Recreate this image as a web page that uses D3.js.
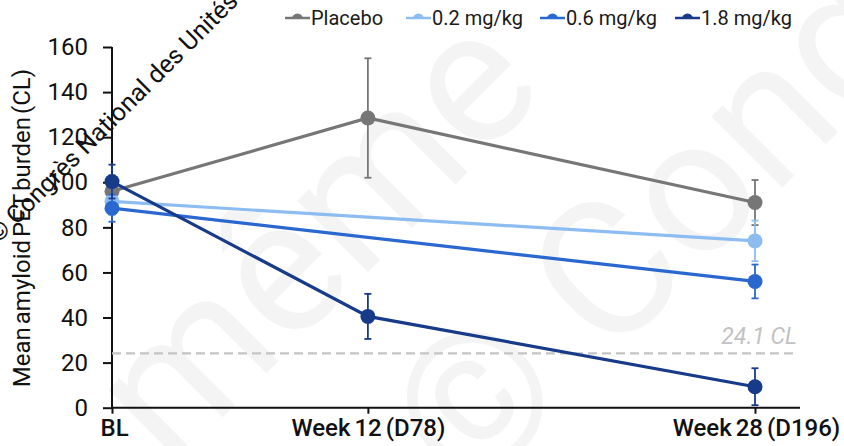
<!DOCTYPE html>
<html>
<head>
<meta charset="utf-8">
<script src="https://cdn.jsdelivr.net/npm/d3@7/dist/d3.min.js"></script>
<style>
  html, body { margin: 0; padding: 0; background: #ffffff; }
  svg { display: block; font-family: Roboto, "Noto Sans", sans-serif; }
</style>
</head>
<body>
<svg id="chart" width="844" height="446"></svg>
<script>
// Visit days and their axis labels
const visitDays = [0, 78, 196];
const visitLabels = ["BL", "Week 12 (D78)", "Week 28 (D196)"];

// Treatment groups
const groups = ["Placebo", "0.2 mg/kg", "0.6 mg/kg", "1.8 mg/kg"];
const groupColors = ["#767676", "#8dbdf0", "#2a67cf", "#173a89"];

// Mean amyloid PET burden (CL) per visit, one array per group
const placeboMean = [96, 128.5, 91];
const dose02Mean  = [91.5, null, 74];
const dose06Mean  = [88.5, null, 56];
const dose18Mean  = [100.3, 40.5, 9.3];

// Standard error half-widths per visit
const placeboErr = [7, 26.5, 10];
const dose02Err  = [6, null, 9];
const dose06Err  = [6, null, 7.5];
const dose18Err  = [7.5, 10, 8.2];

// Y-axis ticks and reference threshold
const yTicks = [0, 20, 40, 60, 80, 100, 120, 140, 160];
const thresholdCL = 24.1;

const means = [placeboMean, dose02Mean, dose06Mean, dose18Mean];
const errs = [placeboErr, dose02Err, dose06Err, dose18Err];

const svg = d3.select("#chart");

// Faint background watermark
const wm = svg.append("g").attr("fill", "#000").attr("fill-opacity", 0.045)
  .style("font-family", "Roboto, sans-serif");
wm.append("text").attr("transform", "translate(170,470) rotate(-45)")
  .style("font-size", "190px").text("même");
wm.append("text").attr("transform", "translate(470,500) rotate(-45)")
  .style("font-size", "190px").text("© Congrès");

const x = d3.scaleLinear().domain([0, 196]).range([112, 755]);
const y = d3.scaleLinear().domain([0, 160]).range([407.7, 47]);

// Y axis
const yAxis = svg.append("g").attr("transform", `translate(${x(0)},0)`)
  .call(d3.axisLeft(y).tickValues(yTicks).tickSize(9).tickPadding(15));
yAxis.select(".domain").attr("stroke", "#111").attr("stroke-width", 2)
  .attr("d", `M0,${y(0)}V${y(160)}`);
yAxis.selectAll(".tick line").attr("stroke", "#111").attr("stroke-width", 2);
yAxis.selectAll(".tick text").attr("fill", "#111").style("font-size", "24px")
  .style("font-family", "Roboto, sans-serif");

// X axis
const xAxis = svg.append("g").attr("transform", `translate(0,${y(0)})`)
  .call(d3.axisBottom(x).tickValues(visitDays)
    .tickFormat((d, i) => visitLabels[i]).tickSize(6).tickPadding(5));
xAxis.select(".domain").attr("stroke", "#111").attr("stroke-width", 2)
  .attr("d", `M${x(0)},0H800`);
xAxis.selectAll(".tick line").attr("stroke", "#111").attr("stroke-width", 2);
xAxis.selectAll(".tick text").attr("fill", "#111").style("font-size", "24px")
  .style("font-weight", 500).style("word-spacing", "-2px")
  .style("font-family", "Roboto, sans-serif");
xAxis.selectAll(".tick text").filter((d, i) => i === 0)
  .attr("text-anchor", "start").attr("dx", "-12");
xAxis.selectAll(".tick text").filter((d, i) => i === 2)
  .attr("text-anchor", "middle").attr("dx", "1");

// Y axis title
svg.append("text")
  .attr("transform", "translate(30,228) rotate(-90)")
  .attr("text-anchor", "middle").attr("fill", "#111")
  .style("font-size", "24px").style("word-spacing", "-3px")
  .style("font-family", "Roboto, sans-serif")
  .text("Mean amyloid PET burden (CL)");

// Threshold line
svg.append("line")
  .attr("x1", x(0)).attr("x2", 797)
  .attr("y1", y(thresholdCL)).attr("y2", y(thresholdCL))
  .attr("stroke", "#c4c4c4").attr("stroke-width", 2.2)
  .attr("stroke-dasharray", "9,5");
svg.append("text")
  .attr("x", 797).attr("y", y(thresholdCL) - 9)
  .attr("text-anchor", "end").attr("fill", "#c2c2c2")
  .style("font-size", "23px").style("font-style", "italic")
  .style("font-family", "Roboto, sans-serif")
  .text(`${thresholdCL} CL`);

// Series: lines, error bars, points
const line = d3.line()
  .defined(d => d.v !== null)
  .x(d => x(d.day)).y(d => y(d.v));

groups.forEach((g, gi) => {
  const pts = visitDays.map((day, i) => ({ day, v: means[gi][i], e: errs[gi][i] }))
    .filter(d => d.v !== null);
  const col = groupColors[gi];
  const gg = svg.append("g");
  gg.append("path").datum(pts).attr("d", line)
    .attr("fill", "none").attr("stroke", col).attr("stroke-width", 3.2);
  const eb = gg.selectAll(".err").data(pts).join("g");
  eb.append("line")
    .attr("x1", d => x(d.day)).attr("x2", d => x(d.day))
    .attr("y1", d => y(d.v + d.e)).attr("y2", d => y(Math.max(0, d.v - d.e)))
    .attr("stroke", col).attr("stroke-width", 1.8);
  eb.append("line")
    .attr("x1", d => x(d.day) - 3.5).attr("x2", d => x(d.day) + 3.5)
    .attr("y1", d => y(d.v + d.e)).attr("y2", d => y(d.v + d.e))
    .attr("stroke", col).attr("stroke-width", 1.8);
  eb.append("line")
    .attr("x1", d => x(d.day) - 3.5).attr("x2", d => x(d.day) + 3.5)
    .attr("y1", d => y(Math.max(0, d.v - d.e))).attr("y2", d => y(Math.max(0, d.v - d.e)))
    .attr("stroke", col).attr("stroke-width", 1.8);
  gg.selectAll("circle").data(pts).join("circle")
    .attr("cx", d => x(d.day)).attr("cy", d => y(d.v)).attr("r", 7.5)
    .attr("fill", col);
});

// Legend
const legendX = [285, 406, 540, 675];
const legend = svg.append("g");
groups.forEach((g, gi) => {
  const lg = legend.append("g").attr("transform", `translate(${legendX[gi]},18)`);
  lg.append("line").attr("x1", 0).attr("x2", 25).attr("y1", 0).attr("y2", 0)
    .attr("stroke", groupColors[gi]).attr("stroke-width", 2.5);
  lg.append("path").attr("d", d3.arc()({ innerRadius: 0, outerRadius: 5.5,
      startAngle: -Math.PI / 2, endAngle: Math.PI / 2 }))
    .attr("transform", "translate(12.5,1)").attr("fill", groupColors[gi]);
  lg.append("text").attr("x", 26).attr("y", 7)
    .attr("fill", "#1a1a1a").style("font-size", "20px")
    .style("font-family", "Roboto, sans-serif").text(g);
});

// Rotated overlay credit
svg.append("text")
  .attr("transform", "translate(-2,244) rotate(-45)")
  .attr("fill", "#111").style("font-size", "25px")
  .style("font-family", "Roboto, sans-serif")
  .text("© Congrès National des Unités");
</script>
</body>
</html>
